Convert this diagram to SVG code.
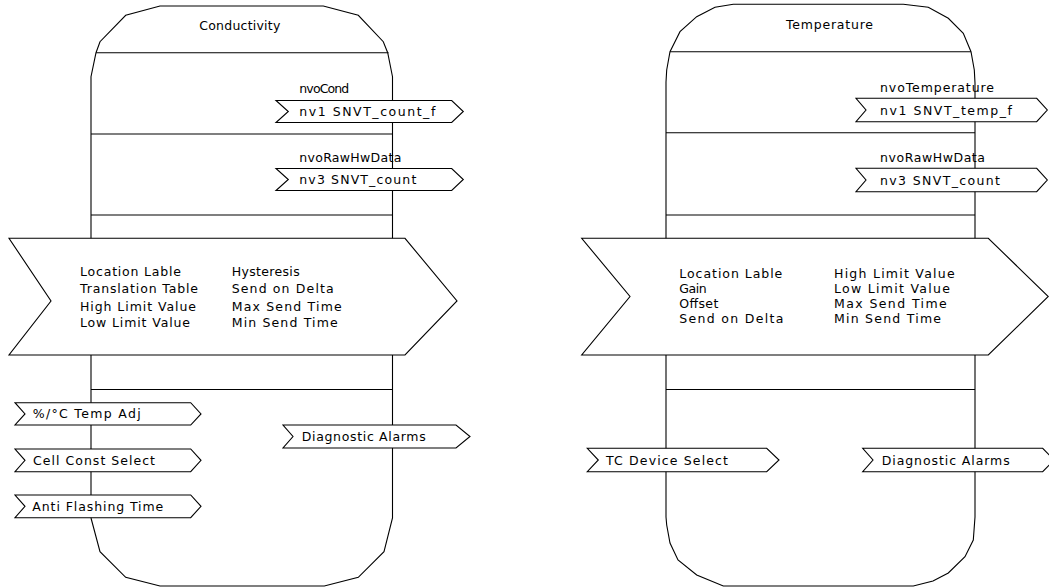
<svg xmlns="http://www.w3.org/2000/svg" width="1049" height="587" viewBox="0 0 1049 587">
<style>
.ln{fill:none;stroke:#000;stroke-width:1.1}
.ar{fill:#fff;stroke:#000;stroke-width:1.1}
.t{font-family:"DejaVu Sans","Liberation Sans",sans-serif;font-size:12.5px;fill:#000}
</style>
<rect width="1049" height="587" fill="#fff"/>

<g id="conductivity">
  <polyline class="ln" points="91,518 91,76.7 96,52.7 100,41.7 125.7,15.3 160,6 323.3,6 358.3,15.3 383.3,41.7 387.7,52.7 392.5,76.7 392.5,518 384,551.7 358.3,577.3 324.3,586 160,586 125.7,577.3 100,551.7 91,518"/>
  <line class="ln" x1="96" y1="52.7" x2="388.5" y2="52.7"/>
  <line class="ln" x1="91" y1="134" x2="392.5" y2="134"/>
  <line class="ln" x1="91" y1="215" x2="392.5" y2="215"/>
  <line class="ln" x1="91" y1="389.5" x2="392.5" y2="389.5"/>
  <text class="t" x="199.3" y="30" textLength="81" lengthAdjust="spacing">Conductivity</text>
  <text class="t" x="299.3" y="93" textLength="50" lengthAdjust="spacing">nvoCond</text>
  <text class="t" x="299.3" y="161.5" textLength="102" lengthAdjust="spacing">nvoRawHwData</text>
</g>

<g id="cond-nv1">
  <polygon class="ar" points="276,100.5 451.7,100.5 463.3,111.5 451.7,122.5 276,122.5 288.3,111.5"/>
  <text class="t" x="299.3" y="115.5" textLength="136" lengthAdjust="spacing">nv1  SNVT_count_f</text>
</g>
<g id="cond-nv3">
  <polygon class="ar" points="276,168.5 451.7,168.5 463.3,179.5 451.7,190.5 276,190.5 288.3,179.5"/>
  <text class="t" x="299.3" y="184" textLength="117" lengthAdjust="spacing">nv3  SNVT_count</text>
</g>
<g id="cond-config">
  <polygon class="ar" points="9,238.3 405,238.3 457,301 405,355 9,355 51,301"/>
  <text class="t" x="80" y="276.3" textLength="101" lengthAdjust="spacing">Location  Lable</text>
  <text class="t" x="80" y="293" textLength="118" lengthAdjust="spacing">Translation  Table</text>
  <text class="t" x="80" y="310.7" textLength="116" lengthAdjust="spacing">High  Limit  Value</text>
  <text class="t" x="80" y="327.3" textLength="110" lengthAdjust="spacing">Low  Limit  Value</text>
  <text class="t" x="231.7" y="276.3" textLength="68" lengthAdjust="spacing">Hysteresis</text>
  <text class="t" x="231.7" y="293" textLength="102" lengthAdjust="spacing">Send  on  Delta</text>
  <text class="t" x="231.7" y="310.7" textLength="110" lengthAdjust="spacing">Max  Send  Time</text>
  <text class="t" x="231.7" y="327.3" textLength="106" lengthAdjust="spacing">Min  Send  Time</text>
</g>
<g id="cond-tempadj">
  <polygon class="ar" points="15,402.7 190.7,402.7 201,413.9 190.7,425 15,425 25,413.9"/>
  <text class="t" x="32.7" y="418" textLength="108" lengthAdjust="spacing">%/°C  Temp  Adj</text>
</g>
<g id="cond-cellconst">
  <polygon class="ar" points="15,449 190.7,449 201,460.3 190.7,471.7 15,471.7 25,460.3"/>
  <text class="t" x="33" y="464.5" textLength="122" lengthAdjust="spacing">Cell  Const  Select</text>
</g>
<g id="cond-antiflash">
  <polygon class="ar" points="15,495 190.7,495 201,506.3 190.7,517.7 15,517.7 25,506.3"/>
  <text class="t" x="32.3" y="510.5" textLength="131" lengthAdjust="spacing">Anti  Flashing  Time</text>
</g>
<g id="cond-diag">
  <polygon class="ar" points="283,425 456,425 470,436.5 456,448 283,448 293,436.5"/>
  <text class="t" x="301.7" y="440.8" textLength="124" lengthAdjust="spacing">Diagnostic  Alarms</text>
</g>

<g id="temperature">
  <polyline class="ln" points="666,517 666,82 666.7,70 670,51.7 680,31.7 696.7,16.7 715,7.3 733.3,4.3 903.3,4.3 928.3,7.3 948.3,18.3 963.3,33.3 971,51.7 974.3,70 975,83 975,517 973.3,540 965,556.7 948.3,573 933,581 913.3,586 723.3,586 696.7,575 678,560 670,543 666.7,525 666,517"/>
  <line class="ln" x1="670" y1="51.7" x2="971" y2="51.7"/>
  <line class="ln" x1="666" y1="132.7" x2="975" y2="132.7"/>
  <line class="ln" x1="666" y1="215" x2="975" y2="215"/>
  <line class="ln" x1="666" y1="389.5" x2="975" y2="389.5"/>
  <text class="t" x="786" y="28.5" textLength="87" lengthAdjust="spacing">Temperature</text>
  <text class="t" x="880" y="92" textLength="114" lengthAdjust="spacing">nvoTemperature</text>
  <text class="t" x="880" y="161.5" textLength="105" lengthAdjust="spacing">nvoRawHwData</text>
</g>
<g id="temp-nv1">
  <polygon class="ar" points="856,98.3 1036.7,98.3 1047.3,110 1036.7,121.7 856,121.7 866,110"/>
  <text class="t" x="880" y="114.5" textLength="132" lengthAdjust="spacing">nv1  SNVT_temp_f</text>
</g>
<g id="temp-nv3">
  <polygon class="ar" points="856,168.3 1036.7,168.3 1047.3,180 1036.7,191.7 856,191.7 866,180"/>
  <text class="t" x="880" y="184.5" textLength="120" lengthAdjust="spacing">nv3  SNVT_count</text>
</g>
<g id="temp-config">
  <polygon class="ar" points="581.7,238.3 988.3,238.3 1048.3,296.5 988.3,355 581.7,355 630,296.5"/>
  <text class="t" x="679.3" y="277.5" textLength="103" lengthAdjust="spacing">Location  Lable</text>
  <text class="t" x="679.3" y="292.5" textLength="27.5" lengthAdjust="spacing">Gain</text>
  <text class="t" x="679.3" y="307.5" textLength="39" lengthAdjust="spacing">Offset</text>
  <text class="t" x="679.3" y="322.5" textLength="104" lengthAdjust="spacing">Send  on  Delta</text>
  <text class="t" x="834" y="277.5" textLength="120.7" lengthAdjust="spacing">High  Limit  Value</text>
  <text class="t" x="834" y="292.5" textLength="116" lengthAdjust="spacing">Low  Limit  Value</text>
  <text class="t" x="834" y="307.5" textLength="112.7" lengthAdjust="spacing">Max  Send  Time</text>
  <text class="t" x="834" y="322.5" textLength="107" lengthAdjust="spacing">Min  Send  Time</text>
</g>
<g id="temp-tcdevice">
  <polygon class="ar" points="587.3,448.3 766.7,448.3 779,460 766.7,471.7 587.3,471.7 598.3,460"/>
  <text class="t" x="606" y="464.5" textLength="122" lengthAdjust="spacing">TC  Device  Select</text>
</g>
<g id="temp-diag">
  <polygon class="ar" points="862.7,448.3 1042.7,448.3 1054,460 1042.7,471.7 862.7,471.7 873,460"/>
  <text class="t" x="881.7" y="464.5" textLength="128" lengthAdjust="spacing">Diagnostic  Alarms</text>
</g>
<g id="connectors"/>
</svg>
